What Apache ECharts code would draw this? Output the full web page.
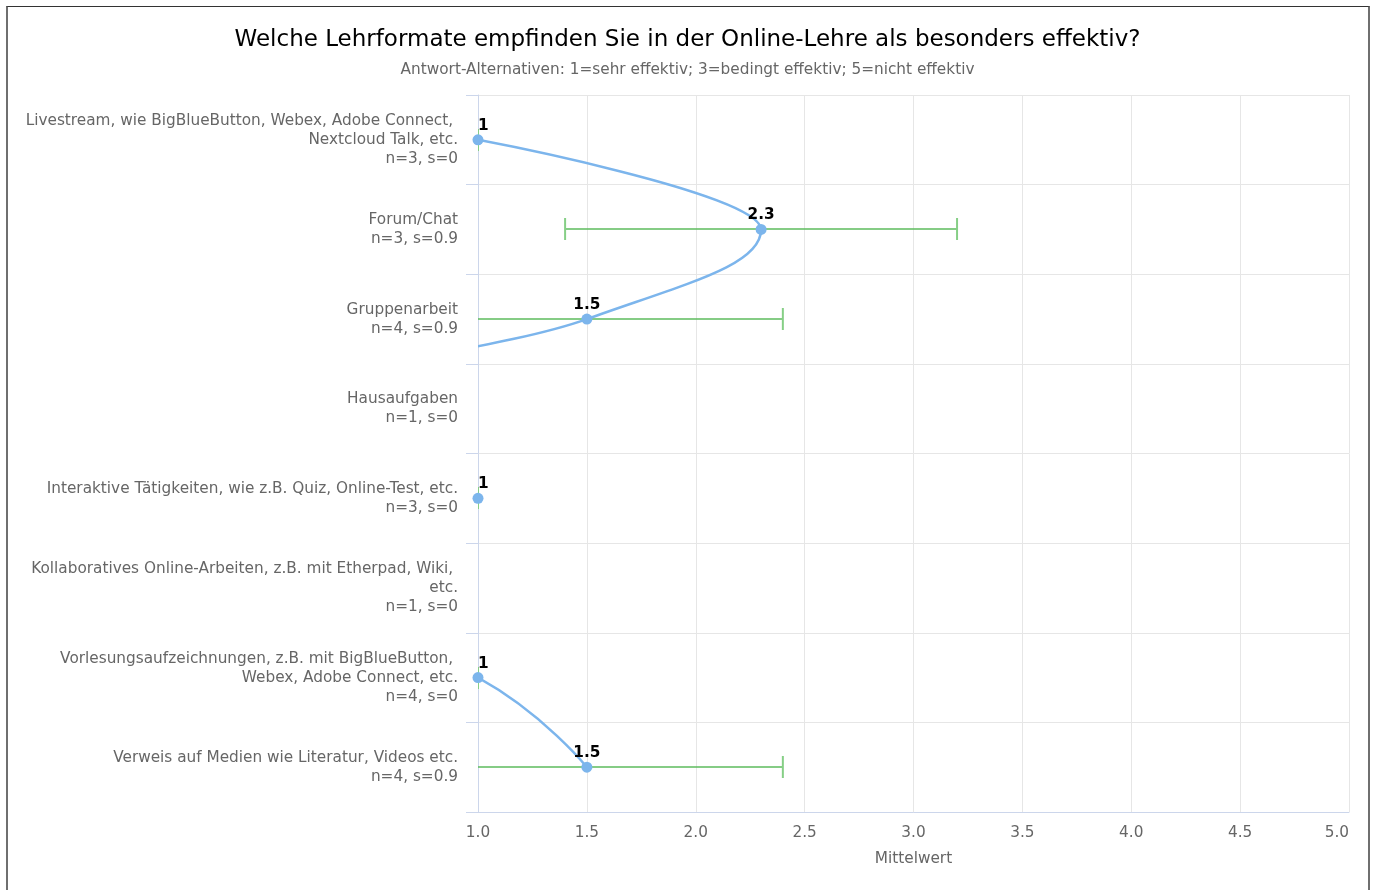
<!DOCTYPE html>
<html><head><meta charset="utf-8">
<script src="https://cdn.jsdelivr.net/npm/echarts@6/dist/echarts.min.js"></script>
<style>
html,body{margin:0;padding:0;background:#fff;}
#c{width:1375px;height:890px;position:absolute;left:0;top:0;}
#frame{position:absolute;left:6px;top:6px;width:1360px;height:900px;border-left:2px solid #6f6f6f;border-right:2px solid #6f6f6f;border-top:1px solid #333;pointer-events:none;}
</style>
</head><body><div id="c"></div><div id="frame"></div>
<script>
const titleText = 'Welche Lehrformate empfinden Sie in der Online-Lehre als besonders effektiv?';
const subtitleText = 'Antwort-Alternativen: 1=sehr effektiv; 3=bedingt effektiv; 5=nicht effektiv';
const categories = [
  'Livestream, wie BigBlueButton, Webex, Adobe Connect, Nextcloud Talk, etc.',
  'Forum/Chat',
  'Gruppenarbeit',
  'Hausaufgaben',
  'Interaktive Tätigkeiten, wie z.B. Quiz, Online-Test, etc.',
  'Kollaboratives Online-Arbeiten, z.B. mit Etherpad, Wiki, etc.',
  'Vorlesungsaufzeichnungen, z.B. mit BigBlueButton, Webex, Adobe Connect, etc.',
  'Verweis auf Medien wie Literatur, Videos etc.'
];
const nCounts = [3, 3, 4, 1, 3, 1, 4, 4];
const stdDevs = [0, 0.9, 0.9, 0, 0, 0, 0, 0.9];
const means   = [1, 2.3, 1.5, 0, 1, 0, 1, 1.5];
const xMin = 1, xMax = 5, xStep = 0.5;
const xAxisName = 'Mittelwert';

const FONT = 'DejaVu Sans';
const FS = 15.3;
const LINE_COLOR = '#7cb5ec';
const ERR_COLOR = '#5dbb5d';
const CAP_COLOR = '#86cf86';

function splineRender(params, api) {
  if (params.dataIndex !== 0) return null;
  // Highcharts-style spline in inverted frame: hx = screen y, hy = screen x
  const P = means.map((v, i) => {
    if (v == null) return null;
    const c = api.coord([v, i]);
    return { x: c[1], y: c[0] };
  });
  const sm = 1.5, den = sm + 1;
  let d = '';
  let prevRight = null;
  for (let i = 0; i < P.length; i++) {
    const p = P[i];
    if (!p) { prevRight = null; continue; }
    const last = i > 0 ? P[i - 1] : null;
    const next = i < P.length - 1 ? P[i + 1] : null;
    let lc = null, rc = null;
    if (last && next) {
      let lcx = (sm * p.x + last.x) / den, lcy = (sm * p.y + last.y) / den;
      let rcx = (sm * p.x + next.x) / den, rcy = (sm * p.y + next.y) / den;
      let corr = 0;
      if (rcx !== lcx) corr = ((rcy - lcy) * (rcx - p.x)) / (rcx - lcx) + p.y - rcy;
      lcy += corr; rcy += corr;
      if (lcy > last.y && lcy > p.y) { lcy = Math.max(last.y, p.y); rcy = 2 * p.y - lcy; }
      else if (lcy < last.y && lcy < p.y) { lcy = Math.min(last.y, p.y); rcy = 2 * p.y - lcy; }
      if (rcy > next.y && rcy > p.y) { rcy = Math.max(next.y, p.y); lcy = 2 * p.y - rcy; }
      else if (rcy < next.y && rcy < p.y) { rcy = Math.min(next.y, p.y); lcy = 2 * p.y - rcy; }
      lc = { x: lcx, y: lcy }; rc = { x: rcx, y: rcy };
    }
    if (!last) {
      d += 'M ' + p.y + ' ' + p.x + ' ';
    } else {
      const c1 = prevRight || last;
      const c2 = lc || p;
      d += 'C ' + c1.y + ' ' + c1.x + ' ' + c2.y + ' ' + c2.x + ' ' + p.y + ' ' + p.x + ' ';
    }
    prevRight = rc;
  }
  return {
    type: 'path',
    shape: { pathData: d },
    style: { fill: null, stroke: LINE_COLOR, lineWidth: 2.5, lineJoin: 'round', lineCap: 'round' }
  };
}

function errorRender(params, api) {
  const cat = api.value(2);
  const lo = api.coord([api.value(0), cat]);
  const hi = api.coord([api.value(1), cat]);
  const yy = Math.round(lo[1]);
  const half = 11;
  return {
    type: 'group',
    children: [
      { type: 'line', shape: { x1: lo[0], y1: yy, x2: hi[0], y2: yy }, style: { stroke: ERR_COLOR, lineWidth: 1.5 } },
      { type: 'line', shape: { x1: lo[0], y1: yy - half, x2: lo[0], y2: yy + half }, style: { stroke: CAP_COLOR, lineWidth: 2 } },
      { type: 'line', shape: { x1: hi[0], y1: yy - half, x2: hi[0], y2: yy + half }, style: { stroke: CAP_COLOR, lineWidth: 2 } }
    ]
  };
}

const chart = echarts.init(document.getElementById('c'), null, { renderer: 'canvas' });
chart.setOption({
  animation: false,
  backgroundColor: 'transparent',
  textStyle: { fontFamily: FONT },
  title: {
    text: titleText,
    subtext: subtitleText,
    left: 'center',
    top: 24,
    itemGap: 11,
    textStyle: { fontFamily: FONT, fontSize: 23, fontWeight: 'normal', color: '#000' },
    subtextStyle: { fontFamily: FONT, fontSize: FS, color: '#666' }
  },
  grid: { left: 478, right: 26, top: 95, bottom: 78, containLabel: false },
  xAxis: {
    type: 'value',
    min: xMin, max: xMax, interval: xStep,
    name: xAxisName,
    nameLocation: 'middle',
    nameGap: 40,
    nameTextStyle: { fontFamily: FONT, fontSize: FS, color: '#666' },
    axisLine: { show: true, lineStyle: { color: '#ccd6eb', width: 1 } },
    axisTick: { show: false },
    splitLine: { show: true, lineStyle: { color: '#e6e6e6', width: 1 } },
    axisLabel: {
      fontFamily: FONT, fontSize: FS, color: '#666', margin: 14,
      alignMaxLabel: 'right',
      formatter: v => v.toFixed(1)
    }
  },
  yAxis: {
    type: 'category',
    inverse: true,
    data: categories,
    axisLine: { show: true, lineStyle: { color: '#ccd6eb', width: 1 } },
    axisTick: { show: true, length: 12, lineStyle: { color: '#ccd6eb' } },
    splitLine: { show: true, lineStyle: { color: '#e6e6e6', width: 1 } },
    axisLabel: {
      fontFamily: FONT, fontSize: FS, color: '#666', margin: 20, lineHeight: 19,
      padding: [3, 0, 0, 0],
      width: 442, overflow: 'break', align: 'right',
      formatter: (val, idx) => val + '\n' + 'n=' + nCounts[idx] + ', s=' + stdDevs[idx]
    }
  },
  series: [
    {
      type: 'custom',
      name: 'Standardabweichung',
      clip: true,
      z: 2,
      encode: { x: [0, 1], y: 2 },
      data: means.map((m, i) => [m - stdDevs[i], m + stdDevs[i], i]),
      renderItem: errorRender
    },
    {
      type: 'custom',
      name: 'Mittelwert-Linie',
      clip: true,
      z: 3,
      encode: { x: 0, y: 1 },
      data: means.map((m, i) => [m, i]),
      renderItem: splineRender
    },
    {
      type: 'scatter',
      name: 'Mittelwert',
      clip: true,
      z: 4,
      symbol: 'circle',
      symbolSize: 11,
      itemStyle: { color: LINE_COLOR, opacity: 1 },
      data: means.map((m, i) => {
        const item = { value: [m, i] };
        if (m === xMin) item.label = { align: 'left' };
        return item;
      }),
      label: {
        show: true,
        position: 'top',
        distance: 1,
        fontFamily: FONT, fontSize: FS, fontWeight: 'bold', color: '#000',
        formatter: p => String(p.value[0])
      }
    }
  ]
});
</script>
</body></html>
